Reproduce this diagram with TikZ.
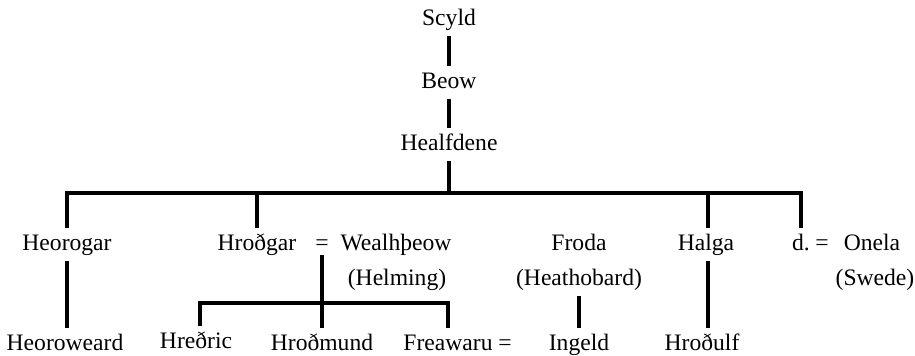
\documentclass[tikz,border=0pt]{standalone}
\usepackage{fontspec}
\setmainfont{Liberation Serif}
\begin{document}
\begin{tikzpicture}[x=0.5pt,y=-0.5pt,
  person/.style={font=\fontsize{11.8}{14}\selectfont, inner xsep=0pt, inner ysep=3pt,
    text height=8pt, text depth=2.5pt, anchor=base},
  rel/.style={line width=1.6pt}]
\useasboundingbox (0,0) rectangle (915,355);
% generations 1-3
\node[person] (scyld) at (449,25) {Scyld};
\node[person] (beow) at (449,88) {Beow};
\node[person] (healfdene) at (449,150) {Healfdene};
% generation 4
\node[person] (heorogar) at (67,250) {Heorogar};
\node[person] (hrothgar) at (257,250) {Hroðgar};
\node[person] (eqa) at (322,250) {=};
\node[person] (wealh) at (396,250) {Wealhþeow};
\node[person] (helming) at (397,285) {(Helming)};
\node[person] (froda) at (579,250) {Froda};
\node[person] (heatho) at (579,285) {(Heathobard)};
\node[person] (halga) at (706,250) {Halga};
\node[person] (dau) at (801,250) {d.};
\node[person] (eqb) at (822,250) {=};
\node[person] (onela) at (872,250) {Onela};
\node[person] (swede) at (875,285) {(Swede)};
% generation 5
\node[person] (heoroweard) at (65,350) {Heoroweard};
\node[person] (hredric) at (196,348) {Hreðric};
\node[person] (hrodmund) at (322,350) {Hroðmund};
\node[person] (freawaru) at (448,350) {Freawaru};
\node[person] (eqc) at (505,350) {=};
\node[person] (ingeld) at (579,350) {Ingeld};
\node[person] (hrodulf) at (702,350) {Hroðulf};
% connectors
\draw[rel] (scyld.south) -- (beow.north);
\draw[rel] (beow.south) -- (healfdene.north);
\coordinate (bar) at (0,193);
\draw[rel] (heorogar.north) -- (heorogar.north |- bar) -| (dau.north);
\draw[rel] (healfdene.south) -- (healfdene.south |- bar);
\draw[rel] (hrothgar.north |- bar) -- (hrothgar.north);
\coordinate (halgax) at (708,0);
\draw[rel] (halgax |- bar) -- (halgax |- halga.north);
\draw[rel] (heorogar.south) -- (heorogar.south |- heoroweard.north);
\draw[rel] ([yshift=3pt]eqa.south) -- (hrodmund.north);
\coordinate (kids) at (0,303);
\draw[rel] ([xshift=2pt]hredric.north) -- ([xshift=2pt]hredric.north |- kids) -| (freawaru.north);
\draw[rel] (heatho.south) -- (ingeld.north);
\draw[rel] (halgax |- halga.south) -- (halgax |- hrodulf.north);
\end{tikzpicture}
\end{document}
